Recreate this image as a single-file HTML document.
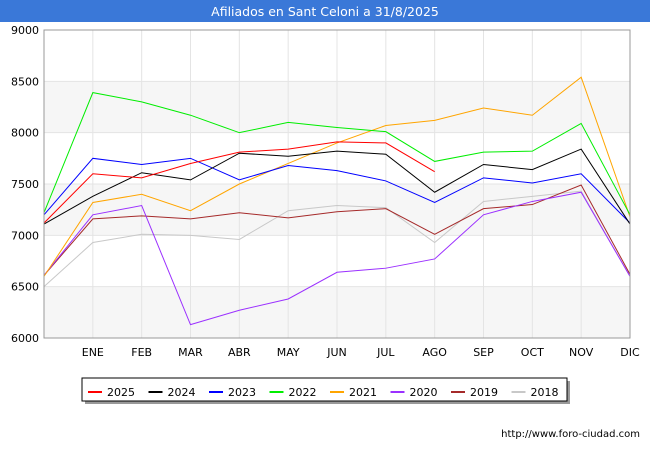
<!DOCTYPE html>
<html><head><meta charset="utf-8"><style>
body{margin:0;background:#fff;font-family:"Liberation Sans","DejaVu Sans",sans-serif}
svg text{font-family:"DejaVu Sans","Liberation Sans",sans-serif;font-size:11px;fill:#000}
</style></head><body>
<svg id="c" width="650" height="450">
<rect x="0" y="0" width="650" height="22" fill="#3a78d8"/>
<text x="325" y="16" text-anchor="middle" style="fill:#fff;font-size:12.5px">Afiliados en Sant Celoni a 31/8/2025</text>
<g id="grid"></g><g id="series"></g><g id="axes"></g><g id="legend"></g>
<text x="640" y="437" text-anchor="end" style="font-size:10px">http://www.foro-ciudad.com</text>
</svg>
<script>
const months=["","ENE","FEB","MAR","ABR","MAY","JUN","JUL","AGO","SEP","OCT","NOV","DIC"];
const yTicks=[6000,6500,7000,7500,8000,8500,9000];
const names=["2025","2024","2023","2022","2021","2020","2019","2018"];
const colors=["#ff0000","#000000","#0000ff","#00ee00","#ffa500","#9b30ff","#a52a2a","#c8c8c8"];
const s2025=[7120,7600,7560,7700,7810,7840,7910,7900,7620];
const s2024=[7110,7380,7610,7540,7800,7770,7820,7790,7420,7690,7640,7840,7110];
const s2023=[7200,7750,7690,7750,7540,7680,7630,7530,7320,7560,7510,7600,7120];
const s2022=[7220,8390,8300,8170,8000,8100,8050,8010,7720,7810,7820,8090,7200];
const s2021=[6600,7320,7400,7240,7500,7700,7900,8070,8120,8240,8170,8540,7180];
const s2020=[6610,7200,7290,6130,6270,6380,6640,6680,6770,7200,7330,7420,6600];
const s2019=[6610,7160,7190,7160,7220,7170,7230,7260,7010,7260,7300,7490,6620];
const s2018=[6500,6930,7010,7000,6960,7240,7290,7270,6930,7330,7380,7430,6600];
const series=[s2025,s2024,s2023,s2022,s2021,s2020,s2019,s2018];
const X0=44,X1=630,Y0=338,Y1=30;
const x=i=>X0+i*(X1-X0)/12;
const y=v=>Y0-(v-6000)*(Y0-Y1)/3000;
const NS="http://www.w3.org/2000/svg";
function mk(t,a,p){const e=document.createElementNS(NS,t);for(const k in a)e.setAttribute(k,a[k]);p.appendChild(e);return e;}
const g=document.getElementById('grid'),ax=document.getElementById('axes'),sg=document.getElementById('series'),lg=document.getElementById('legend');
const pa=mk('rect',{x:X0,y:Y1,width:X1-X0,height:Y0-Y1,fill:'#fff'},g);


for(let k=0;k<yTicks.length-1;k+=2){const b=mk('rect',{x:X0,y:y(yTicks[k]+500),width:X1-X0,height:y(yTicks[k])-y(yTicks[k]+500),fill:'#f6f6f6'},g);

}
yTicks.forEach(v=>{const l=mk('line',{x1:X0,x2:X1,y1:y(v),y2:y(v),stroke:'#e4e4e4'},g);


const t=mk('text',{x:X0-5,y:y(v)+4,'text-anchor':'end'},ax);t.textContent=v;

});
months.forEach((m,i)=>{if(i>0){const l=mk('line',{x1:x(i),x2:x(i),y1:Y1,y2:Y0,stroke:'#e4e4e4'},g);

}
const t=mk('text',{x:x(i),y:356,'text-anchor':'middle'},ax);t.textContent=m;

});
const fr=mk('rect',{x:X0,y:Y1,width:X1-X0,height:Y0-Y1,fill:'none',stroke:'#999'},ax);


for(let s=series.length-1;s>=0;s--){const p=mk('polyline',{points:series[s].map((v,i)=>x(i)+','+y(v)).join(' '),fill:'none',stroke:colors[s],'stroke-width':1},sg);

}
mk('rect',{x:85,y:381,width:485,height:23,fill:'#999'},lg);
const lb=mk('rect',{x:82,y:378,width:485,height:23,fill:'#fff',stroke:'#000'},lg);


names.forEach((n,i)=>{const lx=88+i*60.5;
const e=mk('g',{},lg);


mk('line',{x1:lx,x2:lx+14,y1:392,y2:392,stroke:colors[i],'stroke-width':2},e);
const t=mk('text',{x:lx+19,y:396},e);t.textContent=n;});
</script>
</body></html>
